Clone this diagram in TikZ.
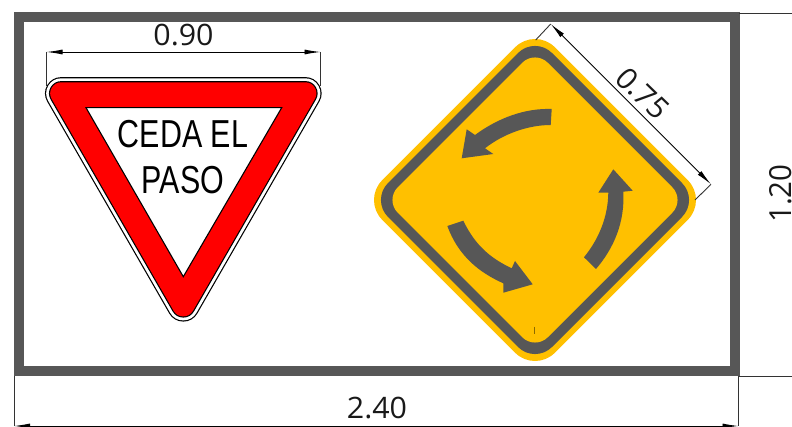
\documentclass[tikz,border=0pt]{standalone}
\usepackage{fontspec}
\setmainfont{Open Sans}
\newfontfamily\signfont{Liberation Sans}
\usetikzlibrary{arrows.meta}
\definecolor{framegray}{HTML}{575757}
\definecolor{signyellow}{HTML}{FFC000}
\definecolor{signred}{HTML}{FF0000}
\tikzset{
  dimline/.style={line width=0.9pt,black,{Latex[length=16pt,width=5pt]}-{Latex[length=16pt,width=5pt]}},
  extline/.style={line width=0.9pt,black!80},
  dimtext/.style={font=\fontsize{29.5}{30}\selectfont,inner sep=0pt,text=black!90,xscale=1.03},
  signtext/.style={font=\signfont\fontsize{39}{39}\selectfont,inner sep=0pt,xscale=0.78},
  darkfill/.style={fill=framegray,draw=none},
  trilayer/.style={draw=#1,fill=#1,line join=round},
}
\begin{document}
\begin{tikzpicture}[x=1pt,y=-1pt]
\useasboundingbox (0,0) rectangle (792,427);
\fill[white] (0,0) rectangle (792,427);
% frame
\draw[framegray,line width=10pt,line join=miter] (18.7,17) rectangle (734.5,371);
% extension lines of the yield sign lie under it
\coordinate (a1) at (46.5,52); \coordinate (a2) at (320.5,52);
\coordinate (a1e) at (46.5,86); \coordinate (a2e) at (320.5,86);
\draw[extline] (a1) -- (a1e); \draw[extline] (a2) -- (a2e);
% yield sign: concentric rounded layers
\coordinate (t1) at (61.3,93.4); \coordinate (t2) at (305.3,93.4); \coordinate (t3) at (183.3,305.3);
\draw[trilayer=black,line width=32.6pt] (t1) -- (t2) -- (t3) -- cycle;
\draw[trilayer=white,line width=30.2pt] (t1) -- (t2) -- (t3) -- cycle;
\draw[trilayer=black,line width=24.6pt] (t1) -- (t2) -- (t3) -- cycle;
\draw[trilayer=signred,line width=22.2pt] (t1) -- (t2) -- (t3) -- cycle;
\draw[black,fill=white,line width=1.1pt] (86,107.7) -- (281.7,107.7) -- (183.3,276.7) -- cycle;
\node[signtext] (ceda) at (183,134.5) {CEDA EL};
\node[signtext] (paso) at (183,180.5) {PASO};
% roundabout sign
\fill[signyellow,rounded corners=28pt] (535,27.4) -- (707.6,200) -- (535,372.6) -- (362.4,200) -- cycle;
\fill[framegray,rounded corners=24pt] (535,36) -- (699,200) -- (535,364) -- (371,200) -- cycle;
\fill[signyellow,rounded corners=18pt] (535,50) -- (685,200) -- (535,350) -- (385,200) -- cycle;
% arrows
\path[darkfill] (551.7,109) .. controls (525,108) and (498,118) .. (475,135) -- (466.7,129.3) -- (461.7,158.3) -- (493.3,154) -- (485,148.3) .. controls (503,134) and (528,125) .. (550.7,125) -- cycle;
\path[darkfill] (623.3,191.7) -- (632.7,190.7) -- (613.3,169.3) -- (598.3,192.7) -- (608.3,192.7) .. controls (608,218) and (598,240) .. (584,257.3) -- (596,269) .. controls (614,248) and (625,222) .. cycle;
\path[darkfill] (463.3,220.7) .. controls (475,245) and (490,258) .. (511.7,268.3) -- (515,261) -- (532.7,284.3) -- (503.3,292.7) -- (503.3,283.3) .. controls (478,272) and (458,255) .. (447.3,226) -- cycle;
\draw[signyellow!55!black,line width=0.7pt] (534.5,326.7) -- (534.5,334);
% dimensions
\draw[dimline] (a1) -- (a2);
\node[dimtext] (d090) at (183.5,35.5) {0.90};
\coordinate (b1) at (550.7,24); \coordinate (b2) at (711,184.3);
\coordinate (b1e) at (535.7,40); \coordinate (b2e) at (695,200);
\draw[extline] (b1) -- (b1e); \draw[extline] (b2) -- (b2e);
\draw[dimline] (b1) -- (b2);
\node[dimtext,rotate=-45] (d075) at (642.7,93.3) {0.75};
\coordinate (c1) at (739,13); \coordinate (c2) at (792,13);
\coordinate (c3) at (739,376); \coordinate (c4) at (792,376);
\draw[extline] (c1) -- (c2); \draw[extline] (c3) -- (c4);
\node[dimtext,rotate=90] (d120) at (780.5,193.5) {1.20};
\coordinate (e1) at (14,426); \coordinate (e2) at (738.5,426);
\coordinate (e1e) at (14,376); \coordinate (e2e) at (738.5,376);
\draw[extline] (e1) -- (e1e); \draw[extline] (e2) -- (e2e);
\draw[dimline] (e1) -- (e2);
\node[dimtext] (d240) at (377,408.5) {2.40};
\end{tikzpicture}
\end{document}
